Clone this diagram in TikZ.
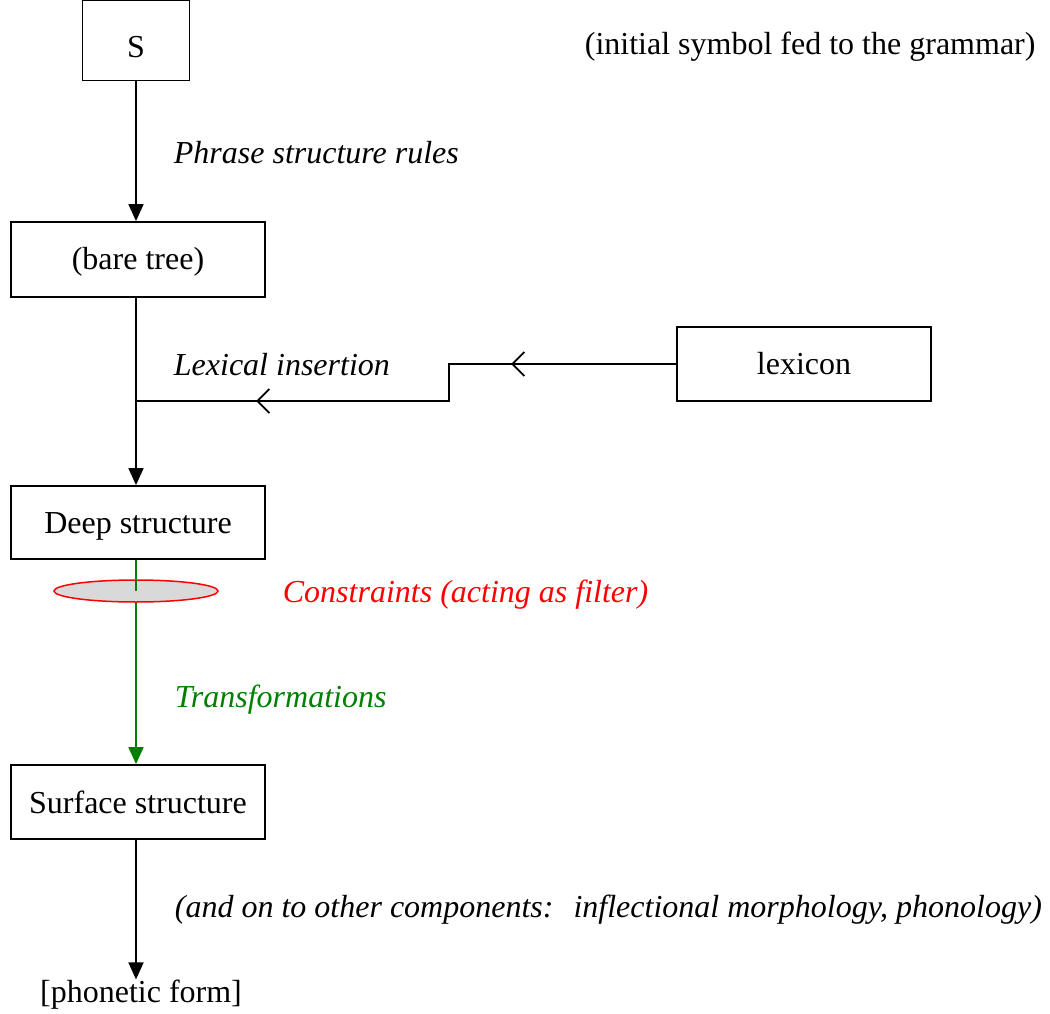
\documentclass[tikz,border=0pt]{standalone}
\usepackage{fontspec}
\setmainfont{Liberation Serif}
\usetikzlibrary{arrows.meta,decorations.markings,shapes.geometric}
\definecolor{tgreen}{RGB}{0,128,0}
\definecolor{fgray}{RGB}{217,217,217}
\begin{document}
\begin{tikzpicture}[x=1pt,y=-1pt,
  font=\fontsize{32}{38}\selectfont,
  line width=1.8pt,
  box/.style={draw, rectangle, inner sep=0pt, line width=1.8pt},
  lbl/.style={anchor=west, inner sep=0pt, font=\fontsize{32}{38}\selectfont\itshape},
  flow/.style={-{Triangle[length=17pt,width=15pt]}},
  barbs/.style={postaction={decorate}, decoration={markings,
     mark=at position 165pt with {\arrow{Straight Barb[length=12pt,width=24pt]}},
     mark=at position 457pt with {\arrow{Straight Barb[length=12pt,width=24pt]}}}}
]
\useasboundingbox (0,0) rectangle (1050,1014);
\node[box, minimum width=107pt, minimum height=80pt, text height=34pt, text depth=0pt] (S) at (136,40.5) {S};
\node[box, minimum width=254pt, minimum height=75pt, text height=27pt, text depth=7pt] (bare) at (138,259.5) {(bare tree)};
\node[box, minimum width=254pt, minimum height=74pt] (lex) at (804,364) {lexicon};
\node[box, minimum width=254pt, minimum height=73pt, text height=29pt, text depth=7pt] (deep) at (138,522.5) {Deep structure};
\node[box, minimum width=254pt, minimum height=74pt] (surf) at (138,802) {Surface structure};
\node[inner sep=0pt] (phon) at (141,995) {[phonetic form]};
\node[inner sep=0pt, anchor=west] (init) at (584,47) {(initial symbol fed to the grammar)};

\node[lbl] (psr) at (173,153) {Phrase structure rules};
\node[lbl] (lexins) at (173,365) {Lexical insertion};
\node[lbl, text=red] (cons) at (282,595) {Constraints (acting as filter)};
\node[lbl, text=tgreen] (trans) at (174,700) {Transformations};
\node[lbl] (on) at (174,910) {(and on to other components:\hspace{20pt}inflectional morphology, phonology)};

\node[ellipse, draw=red, fill=fgray, line width=1.5pt, minimum width=164pt, minimum height=22pt, inner sep=0pt] (filt) at (136,591) {};

\coordinate (j) at (136,401);
\coordinate (k2) at (449,401);
\coordinate (k1) at (k2 |- lex.west);

\draw[flow] (S.south) -- (S.south |- bare.north);
\draw[flow] (j |- bare.south) -- (j |- deep.north);
\draw[barbs] (lex.west) -- (k1) -- (k2) -- (j);
\draw[tgreen] (j |- deep.south) -- (filt.center);
\draw[tgreen, flow] (filt.south) -- (j |- surf.north);
\draw[flow] (j |- surf.south) -- (j |- phon.north);
\end{tikzpicture}
\end{document}
